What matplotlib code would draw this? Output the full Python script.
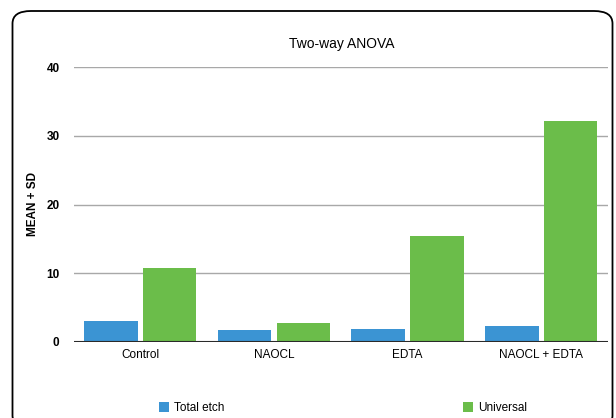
import matplotlib
matplotlib.use("Agg")
import matplotlib.pyplot as plt
import numpy as np
from matplotlib.patches import FancyBboxPatch

categories = ["Control", "NAOCL", "EDTA", "NAOCL + EDTA"]
total_etch = [3.0, 1.75, 1.9, 2.3]
universal = [10.8, 2.75, 15.4, 32.1]
y_ticks = [0, 10, 20, 30, 40]

plt.rcParams["font.family"] = ["Liberation Sans", "DejaVu Sans"]

BLUE = "#3b94d3"
GREEN = "#6bbd4a"

fig = plt.figure(figsize=(6.16, 4.18), dpi=100)
fig.patch.set_facecolor("white")

# rounded frame around the chart, running off the bottom edge
frame = FancyBboxPatch(
    (12.5 / 616, -10 / 418), (600 / 616), (418 - 11 + 10) / 418,
    boxstyle="round,pad=0,rounding_size=0.03",
    transform=fig.transFigure, facecolor="white", edgecolor="black",
    linewidth=1.3, zorder=-5,
)
fig.patches.append(frame)

ax = fig.add_axes([73.5 / 616, 1 - 342 / 418, (608 - 73.5) / 616, (342 - 67) / 418])
ax.set_facecolor("none")
ax.set_zorder(2)

x = np.arange(len(categories))
width = 0.40
offset = 0.22
b1 = ax.bar(x - offset, total_etch, width=width, color=BLUE, label="Total etch", zorder=3)
b2 = ax.bar(x + offset, universal, width=width, color=GREEN, label="Universal", zorder=3)

ax.set_xlim(-0.5, 3.5)
ax.set_ylim(0, 40)
ax.set_yticks(y_ticks)
ax.set_xticks(x)
ax.set_xticklabels(categories)
ax.tick_params(axis="both", length=0, labelsize=8.5, colors="black")
ax.tick_params(axis="y", pad=10)
ax.tick_params(axis="x", pad=5)
for lbl in ax.get_yticklabels():
    lbl.set_fontweight("bold")

for val in y_ticks[1:]:
    ax.axhline(val, color="#a8a8a8", linewidth=1.0, zorder=1)
ax.axhline(0, color="#2a2a2a", linewidth=1.5, zorder=4)

for side in ["top", "right", "left", "bottom"]:
    ax.spines[side].set_visible(False)

ax.set_ylabel("MEAN + SD", fontsize=8.5, fontweight="bold", labelpad=5.5)
fig.text(342 / 616, 1 - 44 / 418, "Two-way ANOVA", ha="center", va="center", fontsize=10)

fig.legend(
    handles=[b1, b2],
    labels=["Total etch", "Universal"],
    loc="center left",
    bbox_to_anchor=(159 / 616, 1 - 408 / 418),
    ncol=2,
    frameon=False,
    fontsize=8.5,
    handlelength=0.85,
    handleheight=0.85,
    handletextpad=0.45,
    columnspacing=20.2,
    borderaxespad=0,
    borderpad=0,
)

fig.savefig("out.png", dpi=100)
